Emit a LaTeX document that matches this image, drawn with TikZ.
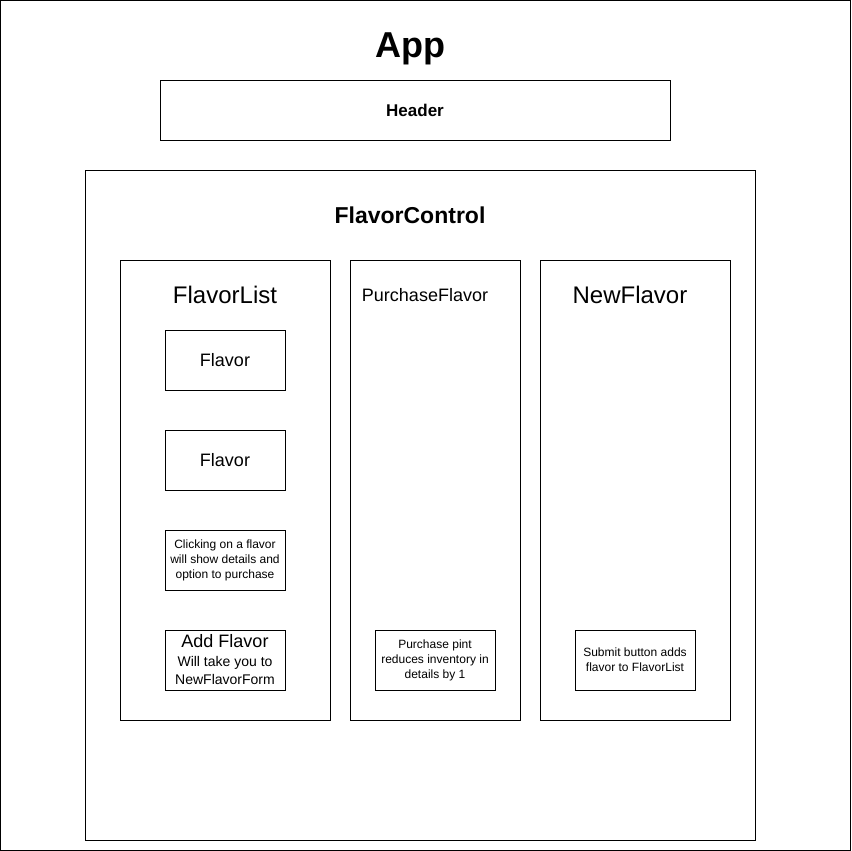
\documentclass[tikz,border=0pt]{standalone}
\usepackage{fontspec}
\setmainfont{Liberation Sans}
\usetikzlibrary{positioning}

\begin{document}
\begin{tikzpicture}[x=1pt, y=-1pt, line width=1pt,
  every node/.style={inner sep=0pt},
  panel/.style={draw, minimum width=#1},
  card/.style={draw, minimum width=120pt, minimum height=60pt, align=center},
  note/.style={font=\fontsize{12}{15}\selectfont},
  title/.style={font=\fontsize{24}{28}\selectfont}]
\useasboundingbox (0,0) rectangle (851,851);
\node[panel=850pt, minimum height=850pt] (app) at (425.5,425.5) {};
\node[font=\bfseries\fontsize{36}{40}\selectfont] (apptitle) at (410,49) {App};
\node[panel=510pt, minimum height=60pt, font=\bfseries\fontsize{17}{20}\selectfont] (header) at (415,110) {Header};

\node[panel=670pt, minimum height=670pt] (control) at (420,505) {};
\node[font=\bfseries\fontsize{23}{27}\selectfont] (controltitle) at (410,215) {FlavorControl};

% the three columns
\node[panel=210pt, minimum height=460pt] (list) at (225,490) {};
\node[title] (listtitle) at (225,295) {FlavorList};
\node[panel=170pt, minimum height=460pt] (purchase) at (435,490) {};
\node[font=\fontsize{18}{21}\selectfont] (purchasetitle) at (425,295) {PurchaseFlavor};
\node[panel=190pt, minimum height=460pt] (newflavor) at (635,490) {};
\node[title] (newflavortitle) at (630,295) {NewFlavor};

% FlavorList contents
\node[card, font=\fontsize{18}{21}\selectfont] (flavorA) at (225,360) {Flavor};
\node[card, font=\fontsize{18}{21}\selectfont] (flavorB) at (225,460) {Flavor};
\node[card, note] (details) at (225,560) {Clicking on a flavor\\will show details and\\option to purchase};
\node[card, font=\fontsize{14}{18}\selectfont] (addflavor) at (225,660)
  {{\fontsize{18}{20}\selectfont Add Flavor}\\[1pt]Will take you to\\NewFlavorForm};

\node[card, note] (pint) at (435,660) {Purchase pint\\reduces inventory in\\details by 1};
\node[card, note] (submit) at (635,660) {Submit button adds\\flavor to FlavorList};
\end{tikzpicture}
\end{document}
